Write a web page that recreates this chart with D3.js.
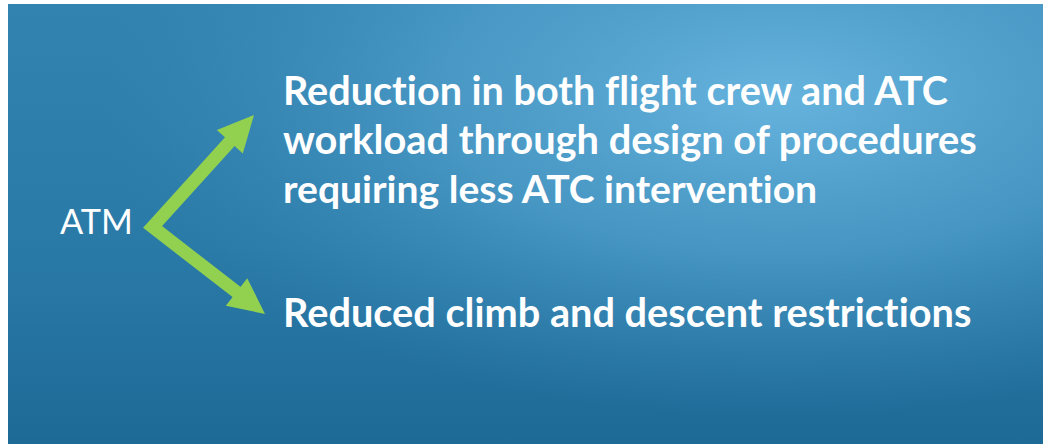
<!DOCTYPE html>
<html>
<head>
<meta charset="utf-8">
<script src="https://cdn.jsdelivr.net/npm/d3@7"></script>
<style>
  html, body { margin: 0; padding: 0; background: #fff; }
  svg { display: block; }
  text { font-variant-ligatures: none; font-feature-settings: "liga" 0, "dlig" 0; }
</style>
</head>
<body>
<svg id="chart" width="1043" height="447"></svg>
<script>
// source node and the two outcomes it points to
var sourceLabel = "ATM";
var outcomeLines = [
  ["Reduction in both flight crew and ATC",
   "workload through design of procedures",
   "requiring less ATC intervention"],
  ["Reduced climb and descent restrictions"]
];
// measured widths of each text line in the reference (px)
var lineWidths = [[665, 694, 535], [688]];

document.addEventListener("DOMContentLoaded", main);

function main() {
  var svg = d3.select("#chart");
  var panel = {x: 8, y: 4, w: 1035, h: 440};

  var defs = svg.append("defs");

  // vertical base gradient: lighter on top, darker at the bottom
  var lin = defs.append("linearGradient")
      .attr("id", "bg")
      .attr("x1", 0).attr("y1", 0).attr("x2", 0).attr("y2", 1);
  lin.append("stop").attr("offset", 0).attr("stop-color", "#3383b1");
  lin.append("stop").attr("offset", 0.55).attr("stop-color", "#2a7aa8");
  lin.append("stop").attr("offset", 1).attr("stop-color", "#1e6a97");

  // soft highlight up to the right of centre
  var rad = defs.append("radialGradient")
      .attr("id", "glow")
      .attr("gradientUnits", "userSpaceOnUse")
      .attr("cx", 0).attr("cy", 0).attr("r", 1)
      .attr("gradientTransform", "translate(780,95) scale(680,320)");
  rad.append("stop").attr("offset", 0).attr("stop-color", "#66b4de").attr("stop-opacity", 1);
  rad.append("stop").attr("offset", 0.5).attr("stop-color", "#55a4d0").attr("stop-opacity", 0.65);
  rad.append("stop").attr("offset", 1).attr("stop-color", "#3e8fbf").attr("stop-opacity", 0);

  svg.append("rect")
      .attr("x", panel.x).attr("y", panel.y)
      .attr("width", panel.w).attr("height", panel.h)
      .attr("fill", "url(#bg)");
  svg.append("rect")
      .attr("x", panel.x).attr("y", panel.y)
      .attr("width", panel.w).attr("height", panel.h)
      .attr("fill", "url(#glow)");

  // the bent arrow: one shaft through the corner, two heads
  var corner = [152.6, 227];
  var tips = [[254, 115], [265, 314]];
  var headLen = 36, headHalf = 17.5, shaft = 13;
  var green = "#92d050";

  var bases = tips.map(function(t) {
    var dx = t[0] - corner[0], dy = t[1] - corner[1];
    var len = Math.sqrt(dx * dx + dy * dy);
    var ux = dx / len, uy = dy / len;
    var b = [t[0] - ux * headLen, t[1] - uy * headLen];
    return {tip: t, base: b, ux: ux, uy: uy};
  });

  svg.append("path")
      .attr("d", d3.line()([
        [bases[0].base[0] + bases[0].ux * 2, bases[0].base[1] + bases[0].uy * 2],
        corner,
        [bases[1].base[0] + bases[1].ux * 2, bases[1].base[1] + bases[1].uy * 2]
      ]))
      .attr("fill", "none")
      .attr("stroke", green)
      .attr("stroke-width", shaft)
      .attr("stroke-linejoin", "miter")
      .attr("stroke-miterlimit", 10);

  svg.selectAll(".head")
    .data(bases)
    .enter()
    .append("path")
      .attr("class", "head")
      .attr("fill", green)
      .attr("d", function(d) {
        var px = -d.uy, py = d.ux;
        return d3.line()([
          d.tip,
          [d.base[0] + px * headHalf, d.base[1] + py * headHalf],
          [d.base[0] - px * headHalf, d.base[1] - py * headHalf]
        ]) + "Z";
      });

  var font = "Lato, 'Open Sans', sans-serif";

  var atm = svg.append("text")
      .attr("x", 60).attr("y", 234)
      .attr("fill", "#fff")
      .attr("font-family", font)
      .attr("font-size", 37)
      .text(sourceLabel);
  fitWidth(atm, 73, 37);

  // bullet text blocks
  var baselines = [[105, 154, 203], [327]];
  outcomeLines.forEach(function(block, bi) {
    block.forEach(function(line, li) {
      var t = svg.append("text")
          .attr("x", 283)
          .attr("y", baselines[bi][li])
          .attr("fill", "#fff")
          .attr("font-family", font)
          .attr("font-weight", "bold")
          .attr("font-size", 37)
          .text(line);
      fitWidth(t, lineWidths[bi][li], 37);
    });
  });
}

// nudge the font size so the line spans roughly the same width as the reference
function fitWidth(sel, target, size) {
  var w = sel.node().getComputedTextLength();
  if (w > 0) {
    var s = size * target / w;
    s = Math.max(size * 0.85, Math.min(size * 1.15, s));
    sel.attr("font-size", s.toFixed(1));
  }
}
</script>
</body>
</html>
